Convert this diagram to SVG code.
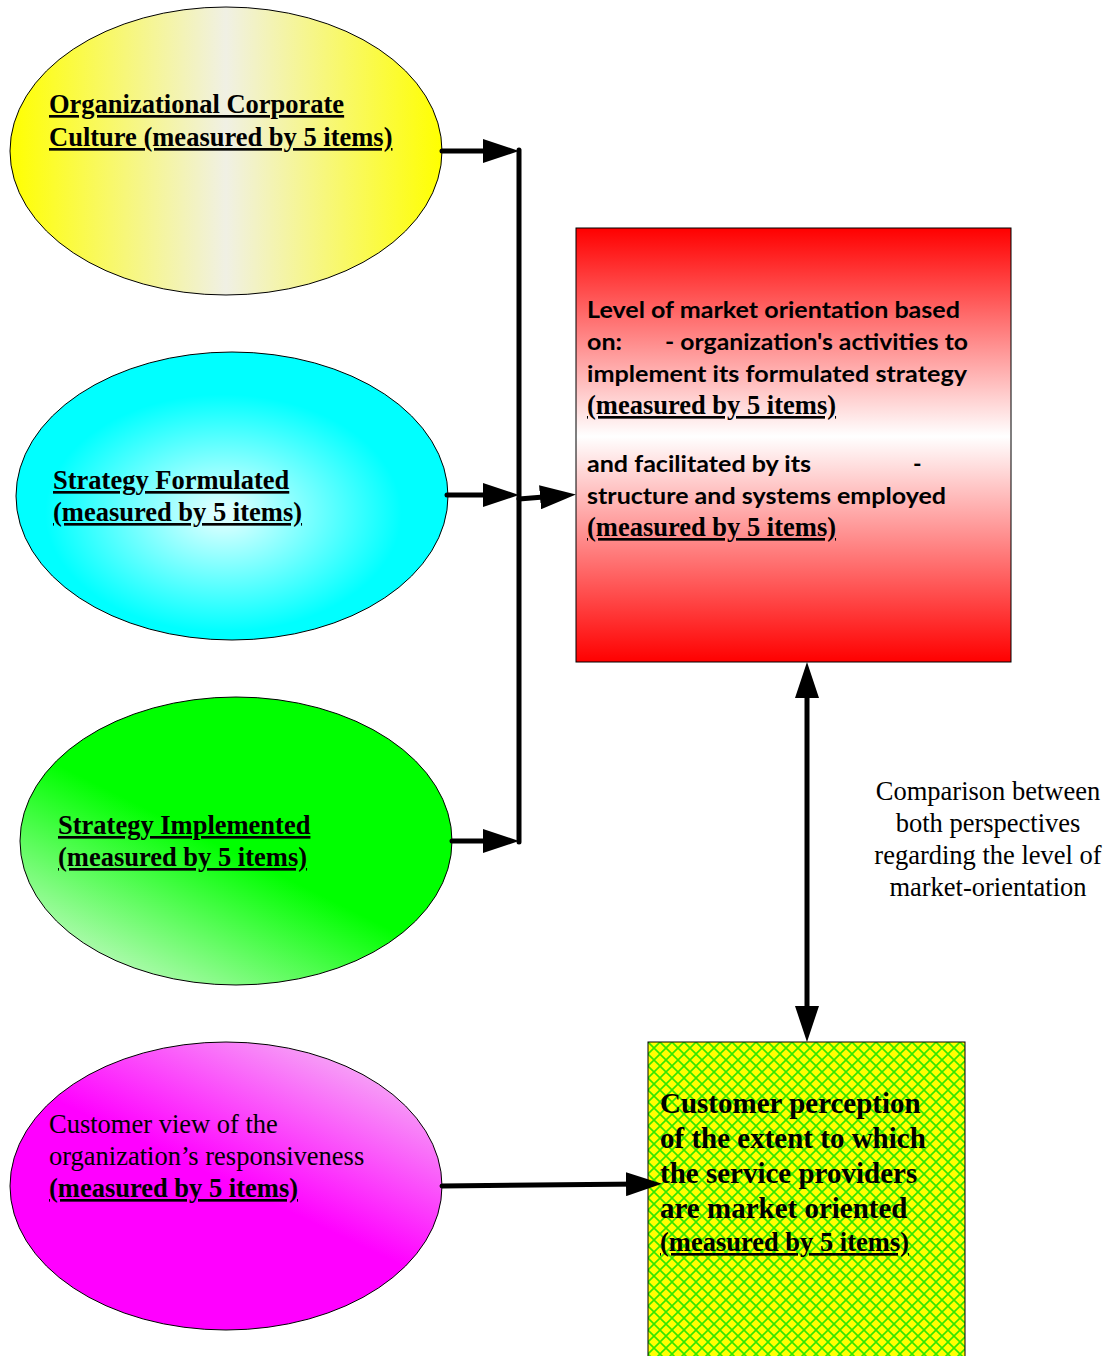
<svg xmlns="http://www.w3.org/2000/svg" width="1109" height="1356" viewBox="0 0 1109 1356">
  <defs>
    <linearGradient id="gYellow" x1="0" y1="0" x2="1" y2="0">
      <stop offset="0" stop-color="#ffff00"/>
      <stop offset="0.5" stop-color="#f0f0e4"/>
      <stop offset="1" stop-color="#ffff00"/>
    </linearGradient>
    <radialGradient id="gCyan" cx="0.48" cy="0.56" r="0.55">
      <stop offset="0" stop-color="#eaffff"/>
      <stop offset="0.75" stop-color="#00ffff"/>
      <stop offset="1" stop-color="#00ffff"/>
    </radialGradient>
    <linearGradient id="gGreen" x1="0.12" y1="1.05" x2="0.75" y2="0.2">
      <stop offset="0" stop-color="#e4f8e4"/>
      <stop offset="0.6" stop-color="#00ff00"/>
      <stop offset="1" stop-color="#00ff00"/>
    </linearGradient>
    <linearGradient id="gMagenta" x1="0.92" y1="0" x2="0.35" y2="0.8">
      <stop offset="0" stop-color="#f4ccf4"/>
      <stop offset="0.65" stop-color="#ff00ff"/>
      <stop offset="1" stop-color="#ff00ff"/>
    </linearGradient>
    <linearGradient id="gRed" x1="0" y1="0" x2="0" y2="1">
      <stop offset="0" stop-color="#ff0000"/>
      <stop offset="0.48" stop-color="#ffffff"/>
      <stop offset="1" stop-color="#ff0000"/>
    </linearGradient>
    <pattern id="pDiamond" x="648" y="1042" width="12" height="12" patternUnits="userSpaceOnUse">
      <rect width="12" height="12" fill="#ffff00"/>
      <path d="M0,0 L12,12 M12,0 L0,12" stroke="#33e600" stroke-width="1.6" fill="none"/>
    </pattern>
    <marker id="arrow" viewBox="0 0 36 24" refX="16" refY="12" markerWidth="36" markerHeight="24" markerUnits="userSpaceOnUse" orient="auto-start-reverse">
      <path d="M0,0 L36,12 L0,24 z" fill="#000"/>
    </marker>
    <style>
      .shape { stroke: #000; stroke-width: 1; }
      .serifB { font-family: "Liberation Serif", "Times New Roman", serif; font-weight: bold; font-size: 26.5px; fill: #000; }
      .serif { font-family: "Liberation Serif", "Times New Roman", serif; font-size: 26.5px; fill: #000; }
      .sansB { font-family: Lato, "Liberation Sans", sans-serif; font-weight: bold; font-size: 23px; fill: #000; }
      .big { font-size: 29px; }
      .ul { text-decoration: underline; }
      .conn { stroke: #000; stroke-width: 5; fill: none; stroke-linecap: round; }
    </style>
  </defs>

  <g id="node-culture">
    <ellipse class="shape" cx="226" cy="151" rx="216" ry="144" fill="url(#gYellow)"/>
    <text class="serifB ul" x="49" y="113">Organizational Corporate</text>
    <text class="serifB ul" x="49" y="146">Culture (measured by 5 items)</text>
  </g>

  <g id="node-formulated">
    <ellipse class="shape" cx="232" cy="496" rx="216" ry="144" fill="url(#gCyan)"/>
    <text class="serifB ul" x="53" y="489">Strategy Formulated</text>
    <text class="serifB ul" x="53" y="521">(measured by 5 items)</text>
  </g>

  <g id="node-implemented">
    <ellipse class="shape" cx="236" cy="841" rx="216" ry="144" fill="url(#gGreen)"/>
    <text class="serifB ul" x="58" y="834">Strategy Implemented</text>
    <text class="serifB ul" x="58" y="866">(measured by 5 items)</text>
  </g>

  <g id="node-customer-view">
    <ellipse class="shape" cx="226" cy="1186" rx="216" ry="144" fill="url(#gMagenta)"/>
    <text class="serif" x="49" y="1133">Customer view of the</text>
    <text class="serif" x="49" y="1165">organization’s responsiveness</text>
    <text class="serifB ul" x="49" y="1197">(measured by 5 items)</text>
  </g>

  <g id="node-market-orientation">
    <rect class="shape" x="576" y="228" width="435" height="434" fill="url(#gRed)"/>
    <text class="sansB" x="587" y="318" textLength="373" lengthAdjust="spacingAndGlyphs">Level of market orientation based</text>
    <text class="sansB" x="587" y="350" textLength="35" lengthAdjust="spacingAndGlyphs">on:</text>
    <text class="sansB" x="665" y="350" textLength="303" lengthAdjust="spacingAndGlyphs">- organization's activities to</text>
    <text class="sansB" x="587" y="382" textLength="380" lengthAdjust="spacingAndGlyphs">implement its formulated strategy</text>
    <text class="serifB ul" x="587" y="414">(measured by 5 items)</text>
    <text class="sansB" x="587" y="472" textLength="224" lengthAdjust="spacingAndGlyphs">and facilitated by its</text>
    <text class="sansB" x="913" y="472">-</text>
    <text class="sansB" x="587" y="504" textLength="359" lengthAdjust="spacingAndGlyphs">structure and systems employed</text>
    <text class="serifB ul" x="587" y="536">(measured by 5 items)</text>
  </g>

  <g id="node-customer-perception">
    <rect class="shape" x="648" y="1042" width="317" height="330" fill="url(#pDiamond)"/>
    <text class="serifB big" x="660" y="1113">Customer perception</text>
    <text class="serifB big" x="660" y="1148">of the extent to which</text>
    <text class="serifB big" x="660" y="1183">the service providers</text>
    <text class="serifB big" x="660" y="1218">are market oriented</text>
    <text class="serifB ul" x="660" y="1251">(measured by 5 items)</text>
  </g>

  <g id="label-comparison">
    <text class="serif" x="988" y="800" text-anchor="middle">Comparison between</text>
    <text class="serif" x="988" y="832" text-anchor="middle">both perspectives</text>
    <text class="serif" x="988" y="864" text-anchor="middle">regarding the level of</text>
    <text class="serif" x="988" y="896" text-anchor="middle">market-orientation</text>
  </g>

  <g id="connectors">
    <line class="conn" x1="519" y1="150" x2="519" y2="842" stroke-linecap="butt"/>
    <line class="conn" x1="442" y1="151" x2="499" y2="151" marker-end="url(#arrow)"/>
    <line class="conn" x1="447" y1="495" x2="499" y2="495" marker-end="url(#arrow)"/>
    <line class="conn" x1="452" y1="841" x2="499" y2="841" marker-end="url(#arrow)"/>
    <line class="conn" x1="519" y1="499" x2="556" y2="496" marker-end="url(#arrow)"/>
    <line class="conn" x1="442" y1="1186" x2="642" y2="1184" marker-end="url(#arrow)"/>
    <line class="conn" x1="807" y1="682" x2="807" y2="1022" marker-start="url(#arrow)" marker-end="url(#arrow)"/>
  </g>
</svg>
